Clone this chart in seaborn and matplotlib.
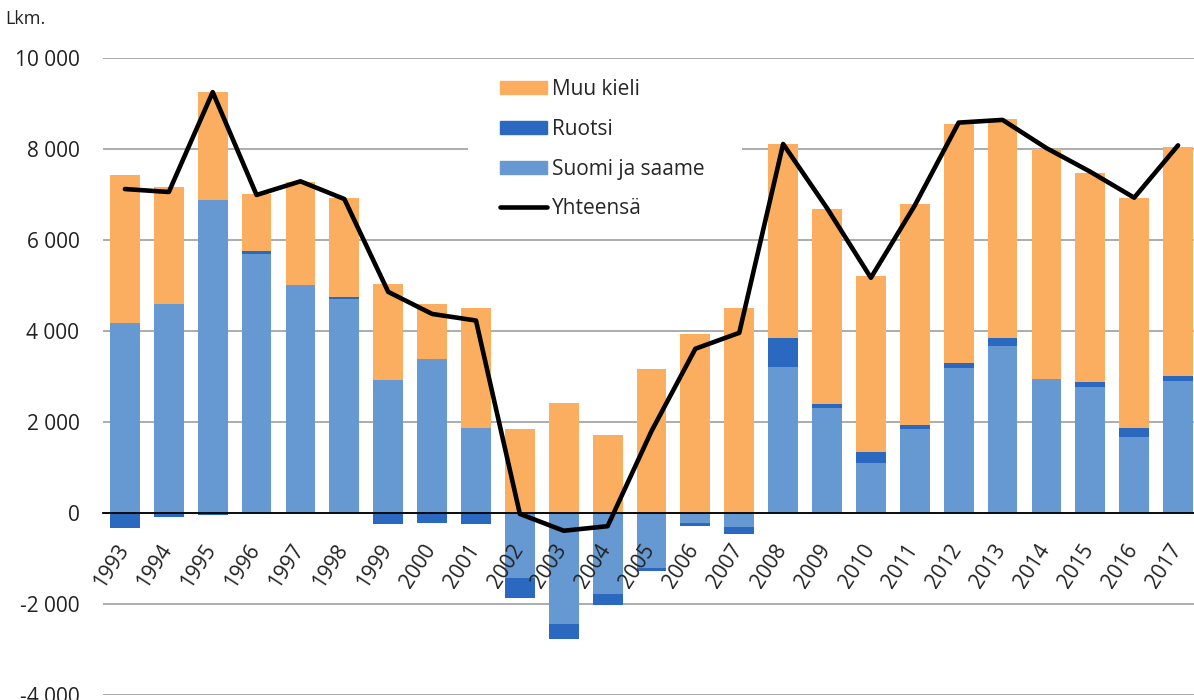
import numpy as np
import pandas as pd
import matplotlib.pyplot as plt
import matplotlib.patches as mpatches
from matplotlib.lines import Line2D
import matplotlib.transforms as mtransforms
import seaborn as sns

years = [str(y) for y in range(1993, 2018)]
# Suomi ja saame, Ruotsi, Muu kieli (net values)
suomi = [4180, 4590, 6880, 5690, 5010, 4700, 2920, 3385, 1870, -1430, -2440, -1780, -1210,
         -220, -310, 3210, 2310, 1100, 1845, 3185, 3670, 2945, 2770, 1670, 2900]
ruotsi = [-330, -90, -40, 70, 0, 50, -240, -220, -240, -440, -330, -240, -65,
          -65, -150, 640, 90, 240, 90, 110, 175, 0, 110, 200, 110]
muu = [3250, 2575, 2370, 1250, 2260, 2170, 2110, 1205, 2635, 1845, 2420, 1715, 3165,
       3935, 4505, 4260, 4280, 3870, 4855, 5255, 4815, 5055, 4595, 5055, 5035]
yhteensa = [7120, 7055, 9250, 6990, 7290, 6900, 4860, 4375, 4230, -20, -390, -290, 1800,
            3610, 3960, 8110, 6700, 5170, 6760, 8580, 8640, 8020, 7500, 6930, 8080]

c_muu = '#FBAE60'
c_ruotsi = '#2B69C0'
c_suomi = '#6699D2'

df = pd.DataFrame({'vuosi': years, 'suomi': suomi, 'ruotsi': ruotsi, 'muu': muu, 'yht': yhteensa})
pos_s = df['suomi'].clip(lower=0)
pos_r = df['ruotsi'].clip(lower=0)
neg_s = df['suomi'].clip(upper=0)
neg_r = df['ruotsi'].clip(upper=0)

sns.set_theme(style='white')
plt.rcParams['font.family'] = ['Open Sans', 'DejaVu Sans']
fs = 15

fig = plt.figure(figsize=(11.94, 7.0), dpi=100)
ax = fig.add_axes([103 / 1194, 5 / 700, 1097 / 1194, 637 / 700])

# stacked bars (overlap technique), positives up and negatives down
layers = [(pos_s + pos_r + df['muu'], c_muu),
          (pos_s + pos_r, c_ruotsi),
          (pos_s, c_suomi),
          (neg_s + neg_r, c_ruotsi),
          (neg_s, c_suomi)]
for h, col in layers:
    sns.barplot(x=df['vuosi'], y=h, color=col, saturation=1, width=0.68,
                linewidth=0, errorbar=None, ax=ax, zorder=2)

# white box behind legend
ax.add_patch(mpatches.Rectangle((468 / 1194, 1 - 233 / 700), 274 / 1194, 167 / 700,
                                transform=fig.transFigure, facecolor='white',
                                edgecolor='none', zorder=1))

sns.lineplot(x=np.arange(len(years)), y=df['yht'], color='black', linewidth=3.3,
             ax=ax, zorder=4, solid_joinstyle='round', solid_capstyle='round')

ax.set_xlim(-0.5, len(years) - 0.5)
ax.set_ylim(-4000, 10000)
ax.set_xlabel('')
ax.set_ylabel('')

# tick params first (pad changes rebuild the ticks)
ax.tick_params(axis='y', length=0, pad=17, labelsize=fs, labelcolor='#222222')
ax.tick_params(axis='x', which='major', length=0, pad=11, labelsize=fs,
               labelcolor='#222222', labelrotation=57)
ax.tick_params(axis='x', which='minor', length=6, width=1.3, color='black', direction='out')

yt = list(range(-4000, 10001, 2000))
ax.set_yticks(yt)
ax.set_yticklabels([f'{v:,}'.replace(',', ' ') for v in yt])
ax.yaxis.grid(True, color='#A6A6A6', linewidth=1.3)
# grid under the bars, year labels on top of them
ax.yaxis.set_zorder(0.5)
ax.xaxis.set_zorder(5)

ax.set_xticks(np.arange(len(years)))
ax.set_xticklabels(years)
ax.set_xticks(np.arange(len(years) + 1) - 0.5, minor=True)

for s in ['left', 'right', 'top']:
    ax.spines[s].set_visible(False)
ax.spines['bottom'].set_position(('data', 0))
ax.spines['bottom'].set_color('black')
ax.spines['bottom'].set_linewidth(1.3)
ax.spines['bottom'].set_zorder(3)

handles = [mpatches.Patch(color=c_muu, label='Muu kieli'),
           mpatches.Patch(color=c_ruotsi, label='Ruotsi'),
           mpatches.Patch(color=c_suomi, label='Suomi ja saame'),
           Line2D([0], [0], color='black', lw=3.3, label='Yhteensä')]
ax.legend(handles=handles, loc='upper left', bbox_to_anchor=(500 / 1194, 1 - 79 / 700),
          bbox_transform=fig.transFigure, frameon=False, borderpad=0, borderaxespad=0,
          fontsize=fs, handlelength=2.26, handleheight=0.58, handletextpad=0.25,
          labelspacing=0.9)

fig.text(5 / 1194, 1 - 10 / 700, 'Lkm.', fontsize=13, va='top', ha='left', color='#222222')

# shift rotated year labels after the ticks exist
fig.canvas.draw()
offset = mtransforms.ScaledTranslation(-1 / 100, -18 / 100, fig.dpi_scale_trans)
for t in ax.xaxis.get_major_ticks():
    lab = t.label1
    lab.set_ha('right')
    lab.set_va('center')
    lab.set_rotation_mode('anchor')
    lab.set_transform(lab.get_transform() + offset)

fig.savefig('out.png', dpi=100)
